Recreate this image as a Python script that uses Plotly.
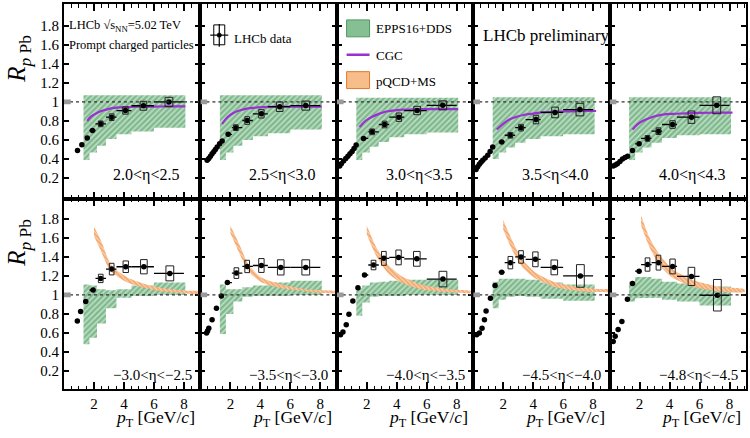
import plotly.graph_objects as go

# ---------------- data ----------------
ETA_TOP = ["2.0&lt;η&lt;2.5", "2.5&lt;η&lt;3.0", "3.0&lt;η&lt;3.5", "3.5&lt;η&lt;4.0", "4.0&lt;η&lt;4.3"]
ETA_BOT = ["−3.0&lt;η&lt;−2.5", "−3.5&lt;η&lt;−3.0", "−4.0&lt;η&lt;−3.5", "−4.5&lt;η&lt;−4.0", "−4.8&lt;η&lt;−4.5"]

X_TICKS = [2, 4, 6, 8]
Y_TICKS = [0.2, 0.4, 0.6, 0.8, 1.0, 1.2, 1.4, 1.6, 1.8]
Y_TICKTEXT = ["0.2", "0.4", "0.6", "0.8", "1", "1.2", "1.4", "1.6", "1.8"]

# LHCb data, forward (top row)
PT_T1 = [0.9, 1.19, 1.55, 1.9, 2.45, 3.18, 4.1, 5.3, 7.0]
R_T1 = [0.49, 0.55, 0.62, 0.70, 0.77, 0.84, 0.91, 0.96, 1.0]
SYS_T1 = [0.03, 0.035, 0.038, 0.047, 0.049]

PT_T2 = [0.45, 0.56, 0.67, 0.78, 0.89, 1.0, 1.12, 1.28, 1.45, 1.85, 2.36, 3.12, 4.07, 5.29, 7.03]
R_T2 = [0.386, 0.405, 0.43, 0.455, 0.476, 0.50, 0.526, 0.56, 0.59, 0.66, 0.73, 0.805, 0.875, 0.95, 0.962]
SYS_T2 = [0.03, 0.04, 0.044, 0.05, 0.048]

PT_T3 = [0.19, 0.3, 0.45, 0.6, 0.74, 0.88, 1.02, 1.15, 1.29, 1.78, 2.36, 3.19, 4.14, 5.36, 7.07]
R_T3 = [0.327, 0.35, 0.38, 0.405, 0.43, 0.455, 0.48, 0.51, 0.547, 0.617, 0.686, 0.763, 0.84, 0.91, 0.965]
SYS_T3 = [0.03, 0.035, 0.044, 0.044, 0.047]

PT_T4 = [0.19, 0.3, 0.41, 0.52, 0.64, 0.8, 0.97, 1.13, 1.3, 1.9, 2.48, 3.19, 4.19, 5.46, 7.12]
R_T4 = [0.29, 0.318, 0.345, 0.365, 0.386, 0.41, 0.44, 0.48, 0.526, 0.58, 0.65, 0.73, 0.815, 0.89, 0.92]
SYS_T4 = [0.03, 0.035, 0.045, 0.056, 0.066]

PT_T5 = [0.24, 0.38, 0.52, 0.69, 0.86, 1.03, 1.2, 1.53, 1.97, 2.53, 3.26, 4.2, 5.46, 7.15]
R_T5 = [0.327, 0.337, 0.35, 0.375, 0.40, 0.415, 0.43, 0.49, 0.56, 0.617, 0.693, 0.763, 0.84, 0.965]
SYS_T5 = [0.03, 0.035, 0.04, 0.065, 0.089]

# LHCb data, backward (bottom row)
PT_B1 = [0.89, 1.11, 1.45, 1.94, 2.45, 3.18, 4.12, 5.33, 7.06]
R_B1 = [0.727, 0.825, 0.93, 1.052, 1.174, 1.272, 1.297, 1.297, 1.227]
SYS_B1 = [0.044, 0.061, 0.061, 0.075, 0.079]

PT_B2 = [0.41, 0.48, 0.56, 0.78, 1.07, 1.4, 1.8, 2.4, 3.12, 4.07, 5.36, 7.03]
R_B2 = [0.60, 0.62, 0.65, 0.74, 0.86, 0.99, 1.13, 1.23, 1.30, 1.31, 1.29, 1.29]
SYS_B2 = [0.056, 0.065, 0.073, 0.08, 0.08]

PT_B3 = [0.25, 0.41, 0.63, 0.81, 1.07, 1.41, 1.85, 2.45, 3.14, 4.12, 5.34, 7.08]
R_B3 = [0.58, 0.61, 0.686, 0.797, 0.937, 1.077, 1.21, 1.315, 1.385, 1.395, 1.38, 1.167]
SYS_B3 = [0.05, 0.073, 0.078, 0.078, 0.082]

PT_B4 = [0.23, 0.41, 0.59, 0.75, 0.86, 1.15, 1.46, 1.9, 2.48, 3.19, 4.15, 5.41, 7.15]
R_B4 = [0.58, 0.60, 0.65, 0.74, 0.83, 0.965, 1.10, 1.24, 1.34, 1.40, 1.375, 1.29, 1.20]
SYS_B4 = [0.065, 0.066, 0.078, 0.078, 0.119]

PT_B5 = [0.24, 0.37, 0.57, 0.82, 1.19, 1.53, 1.97, 2.53, 3.26, 4.2, 5.46, 7.19]
R_B5 = [0.51, 0.565, 0.635, 0.72, 0.956, 1.12, 1.25, 1.32, 1.34, 1.30, 1.195, 0.997]
SYS_B5 = [0.07, 0.078, 0.078, 0.096, 0.166]

DATA_BIN_EDGES = [1.7, 2.1, 2.8, 3.5, 4.5, 6.0, 8.0]
LOW_PT_HALF_BIN = 0.08
STAT_ERR = 0.015

# EPPS16+DDS bands
EPPS_EDGES = [1.3, 1.7, 2.2, 2.8, 3.5, 4.5, 6.0, 8.1]
EPPS_LO_T = [
    [0.39, 0.47, 0.54, 0.61, 0.66, 0.69, 0.73],
    [0.39, 0.47, 0.54, 0.60, 0.64, 0.67, 0.71],
    [0.39, 0.47, 0.53, 0.58, 0.63, 0.66, 0.68],
    [0.40, 0.47, 0.52, 0.57, 0.61, 0.64, 0.66],
    [0.39, 0.47, 0.52, 0.57, 0.62, 0.65, 0.66],
]
EPPS_HI_T = [
    [1.07] * 7,
    [1.07] * 7,
    [1.045] * 7,
    [1.05] * 7,
    [1.05] * 7,
]
EPPS_LO_B = [
    [0.48, 0.55, 0.70, 0.86, 0.97, 0.99, 1.0],
    [0.59, 0.80, 0.93, 0.98, 0.99, 0.99, 1.0],
    [0.78, 0.92, 0.98, 0.99, 0.99, 1.0, 1.0],
    [0.86, 0.95, 0.98, 0.99, 0.98, 0.96, 0.94],
    [0.93, 0.965, 0.97, 0.97, 0.95, 0.93, 0.89],
]
EPPS_HI_B = [
    [1.11, 1.10, 1.06, 1.05, 1.06, 1.10, 1.13],
    [1.11, 1.06, 1.06, 1.08, 1.10, 1.13, 1.15],
    [1.07, 1.10, 1.13, 1.14, 1.15, 1.16, 1.16],
    [1.14, 1.17, 1.17, 1.17, 1.16, 1.13, 1.11],
    [1.14, 1.19, 1.19, 1.17, 1.14, 1.12, 1.09],
]

# CGC curves (top row)
CGC_PT = [
    [1.55, 1.8, 2.2, 2.6, 3.0, 3.5, 4.0, 5.0, 6.0, 7.0, 8.1],
    [1.45, 1.8, 2.2, 2.6, 3.0, 3.5, 4.2, 5.0, 6.0, 7.0, 8.1],
    [1.52, 1.9, 2.3, 2.8, 3.3, 4.0, 4.7, 5.7, 7.0, 8.1],
    [1.57, 2.0, 2.41, 2.9, 3.41, 4.0, 4.6, 5.5, 6.5, 7.5, 8.2],
    [1.53, 1.9, 2.42, 2.9, 3.53, 4.2, 5.1, 6.0, 7.0, 8.2],
]
CGC_R = [
    [0.80, 0.845, 0.885, 0.91, 0.928, 0.94, 0.946, 0.95, 0.952, 0.953, 0.953],
    [0.77, 0.84, 0.885, 0.91, 0.928, 0.938, 0.945, 0.948, 0.95, 0.95, 0.95],
    [0.735, 0.80, 0.84, 0.875, 0.90, 0.915, 0.92, 0.925, 0.925, 0.925],
    [0.71, 0.77, 0.815, 0.845, 0.866, 0.878, 0.89, 0.897, 0.902, 0.905, 0.905],
    [0.71, 0.77, 0.815, 0.845, 0.866, 0.875, 0.88, 0.885, 0.887, 0.888],
]

# pQCD+MS bands (bottom row)
MS_PT = [
    [2.0, 2.5, 3.05, 3.6, 4.4, 5.5, 6.6, 8.2, 9.0],
    [2.0, 2.6, 3.2, 4.1, 5.4, 7.0, 8.1, 9.0],
    [2.0, 2.6, 3.4, 4.3, 5.6, 7.4, 9.0],
    [2.0, 2.64, 3.3, 4.2, 5.5, 7.1, 8.6, 9.0],
    [2.1, 2.64, 3.3, 4.2, 5.5, 7.2, 9.0],
]
MS_LO = [
    [1.62, 1.45, 1.26, 1.19, 1.12, 1.07, 1.035, 1.015, 1.01],
    [1.65, 1.44, 1.25, 1.13, 1.07, 1.04, 1.02, 1.02],
    [1.64, 1.42, 1.23, 1.13, 1.06, 1.03, 1.02],
    [1.69, 1.46, 1.29, 1.17, 1.08, 1.04, 1.03, 1.03],
    [1.73, 1.51, 1.32, 1.18, 1.09, 1.04, 1.03],
]
MS_HI = [
    [1.72, 1.56, 1.34, 1.25, 1.17, 1.11, 1.07, 1.045, 1.04],
    [1.73, 1.53, 1.32, 1.18, 1.11, 1.06, 1.05, 1.04],
    [1.73, 1.51, 1.32, 1.20, 1.11, 1.06, 1.04],
    [1.79, 1.56, 1.37, 1.23, 1.13, 1.08, 1.06, 1.06],
    [1.84, 1.61, 1.43, 1.27, 1.16, 1.09, 1.06],
]

TOP_PT = [PT_T1, PT_T2, PT_T3, PT_T4, PT_T5]
TOP_R = [R_T1, R_T2, R_T3, R_T4, R_T5]
TOP_SYS = [SYS_T1, SYS_T2, SYS_T3, SYS_T4, SYS_T5]
BOT_PT = [PT_B1, PT_B2, PT_B3, PT_B4, PT_B5]
BOT_R = [R_B1, R_B2, R_B3, R_B4, R_B5]
BOT_SYS = [SYS_B1, SYS_B2, SYS_B3, SYS_B4, SYS_B5]

# ---------------- layout geometry ----------------
W, H = 750, 438
ML, MR, MT, MB = 64, 3, 2, 49
PW = W - ML - MR
PH = H - MT - MB
ROW_SPLIT = 198          # pixel row of the boundary between the two rows
NCOL = 5
COLW = PW / NCOL
X_RANGE = [0, 9.1]
Y_RANGE_TOP = [-0.02, 2.03]
Y_RANGE_BOT = [0.01, 2.01]

FONT = "Liberation Serif"
GREEN_FG = "#3f9156"
GREEN_BG = "#bfdfc5"
ORANGE_FG = "#ee7c2c"
ORANGE_BG = "#fbd3b0"
PURPLE = "#9b30d0"


def xp(px):
    return (px - ML) / PW


def yp(py):
    return (H - MB - py) / PH


def bin_of(pt):
    for i in range(len(DATA_BIN_EDGES) - 1):
        if DATA_BIN_EDGES[i] <= pt < DATA_BIN_EDGES[i + 1]:
            return DATA_BIN_EDGES[i], DATA_BIN_EDGES[i + 1]
    return None


fig = go.Figure()
shapes = []
annotations = []

split_frac = yp(ROW_SPLIT)

for row in range(2):
    for c in range(NCOL):
        idx = row * NCOL + c + 1
        xa = "x" if idx == 1 else f"x{idx}"
        ya = "y" if idx == 1 else f"y{idx}"
        xkey = "xaxis" if idx == 1 else f"xaxis{idx}"
        ykey = "yaxis" if idx == 1 else f"yaxis{idx}"

        # ---- EPPS16+DDS band ----
        lo = (EPPS_LO_T if row == 0 else EPPS_LO_B)[c]
        hi = (EPPS_HI_T if row == 0 else EPPS_HI_B)[c]
        bx, by = [], []
        for i in range(len(lo)):
            bx += [EPPS_EDGES[i], EPPS_EDGES[i + 1]]
            by += [hi[i], hi[i]]
        for i in reversed(range(len(lo))):
            bx += [EPPS_EDGES[i + 1], EPPS_EDGES[i]]
            by += [lo[i], lo[i]]
        fig.add_trace(go.Scatter(
            x=bx, y=by, xaxis=xa, yaxis=ya, mode="lines", fill="toself",
            line=dict(width=0), fillcolor=GREEN_BG,
            fillpattern=dict(shape="/", fgcolor=GREEN_FG, bgcolor=GREEN_BG,
                             size=4, solidity=0.6),
            hoverinfo="skip", showlegend=False))

        if row == 0:
            fig.add_trace(go.Scatter(
                x=CGC_PT[c], y=CGC_R[c], xaxis=xa, yaxis=ya, mode="lines",
                line=dict(color=PURPLE, width=2.2, shape="spline"),
                hoverinfo="skip", showlegend=False))
        else:
            mx = MS_PT[c] + MS_PT[c][::-1]
            my = MS_HI[c] + MS_LO[c][::-1]
            fig.add_trace(go.Scatter(
                x=mx, y=my, xaxis=xa, yaxis=ya, mode="lines", fill="toself",
                line=dict(width=0, shape="spline", smoothing=0.6),
                fillcolor=ORANGE_BG,
                fillpattern=dict(shape="\\", fgcolor=ORANGE_FG, bgcolor=ORANGE_BG,
                                 size=3, solidity=0.6),
                hoverinfo="skip", showlegend=False))

        # ---- data points ----
        pts = (TOP_PT if row == 0 else BOT_PT)[c]
        rs = (TOP_R if row == 0 else BOT_R)[c]
        sys = (TOP_SYS if row == 0 else BOT_SYS)[c]
        ex_p, ex_m = [], []
        for pt in pts:
            b = bin_of(pt)
            if b is None:
                ex_p.append(LOW_PT_HALF_BIN)
                ex_m.append(LOW_PT_HALF_BIN)
            else:
                ex_m.append(pt - b[0])
                ex_p.append(b[1] - pt)
        fig.add_trace(go.Scatter(
            x=pts, y=rs, xaxis=xa, yaxis=ya, mode="markers",
            marker=dict(color="black", size=5.5),
            error_x=dict(type="data", array=ex_p, arrayminus=ex_m, symmetric=False,
                         color="black", thickness=1.3, width=0),
            error_y=dict(type="constant", value=STAT_ERR, color="black",
                         thickness=1.3, width=0),
            hoverinfo="skip", showlegend=False))

        # systematic boxes for the last points
        nbox = len(sys)
        for k in range(nbox):
            pi = len(pts) - nbox + k
            pt, rv = pts[pi], rs[pi]
            b = bin_of(pt)
            hw = 0.1 + 0.08 * (b[1] - b[0])
            shapes.append(dict(type="rect", xref=xa, yref=ya,
                               x0=pt - hw, x1=pt + hw, y0=rv - sys[k], y1=rv + sys[k],
                               line=dict(color="#222", width=1), fillcolor="rgba(0,0,0,0)"))

        # reference line at 1 and normalisation box
        shapes.append(dict(type="line", xref=xa, yref=ya, x0=X_RANGE[0], x1=X_RANGE[1],
                           y0=1, y1=1, line=dict(color="#333", width=1.2, dash="dot")))
        shapes.append(dict(type="rect", xref=xa, yref=ya, x0=0, x1=0.45,
                           y0=0.975, y1=1.025, line=dict(width=0), fillcolor="#9a9a9a"))

        # ---- axes ----
        dom_x = [c / NCOL, (c + 1) / NCOL]
        dom_y = [split_frac, 1] if row == 0 else [0, split_frac]
        fig.layout[xkey] = dict(
            domain=dom_x, anchor=ya, range=X_RANGE, showgrid=False, zeroline=False,
            showline=True, linecolor="black", linewidth=2, mirror="allticks",
            ticks="inside", ticklen=7, tickwidth=1.5, tickcolor="black",
            tickvals=X_TICKS, ticktext=[str(v) for v in X_TICKS],
            showticklabels=(row == 1),
            tickfont=dict(family=FONT, size=15, color="black"),
            minor=dict(dtick=0.5, tick0=0, ticks="inside", ticklen=3.5,
                       tickwidth=1.2, tickcolor="black", showgrid=False),
            fixedrange=True)
        fig.layout[ykey] = dict(
            domain=dom_y, anchor=xa,
            range=Y_RANGE_TOP if row == 0 else Y_RANGE_BOT,
            showgrid=False, zeroline=False,
            showline=True, linecolor="black", linewidth=2, mirror="allticks",
            ticks="inside", ticklen=5, tickwidth=1.5, tickcolor="black",
            tickvals=Y_TICKS, ticktext=Y_TICKTEXT,
            showticklabels=(c == 0),
            tickfont=dict(family=FONT, size=15, color="black"),
            fixedrange=True)

        # eta label
        left_px = ML + COLW * c
        annotations.append(dict(
            xref="paper", yref="paper", x=xp(left_px + 47), y=yp(174 if row == 0 else 375),
            xanchor="left", yanchor="middle", showarrow=False,
            text=(ETA_TOP if row == 0 else ETA_BOT)[c],
            font=dict(family=FONT, size=16 if row == 0 else 15, color="black")))
        if row == 1:
            annotations.append(dict(
                xref="paper", yref="paper", x=xp(left_px + COLW - 3), y=yp(419),
                xanchor="right", yanchor="middle", showarrow=False,
                text="<i>p</i><sub>T</sub> [GeV/<i>c</i>]",
                font=dict(family=FONT, size=17.5, color="black")))

# y-axis titles
for cy in (57, 242):
    annotations.append(dict(
        xref="paper", yref="paper", x=xp(19), y=yp(cy), xanchor="center", yanchor="middle",
        showarrow=False, textangle=-90, text="<i>R</i><sub><i>p</i> Pb</sub>",
        font=dict(family=FONT, size=25, color="black")))

# panel texts
annotations += [
    dict(xref="paper", yref="paper", x=xp(67), y=yp(24), xanchor="left", yanchor="middle",
         showarrow=False, text="LHCb √s<sub>NN</sub>=5.02 TeV",
         font=dict(family=FONT, size=12.5, color="black")),
    dict(xref="paper", yref="paper", x=xp(67), y=yp(43), xanchor="left", yanchor="middle",
         showarrow=False, text="Prompt charged particles",
         font=dict(family=FONT, size=12.5, color="black")),
    dict(xref="paper", yref="paper", x=xp(232), y=yp(37), xanchor="left", yanchor="middle",
         showarrow=False, text="LHCb data",
         font=dict(family=FONT, size=13, color="black")),
    dict(xref="paper", yref="paper", x=xp(374), y=yp(27), xanchor="left", yanchor="middle",
         showarrow=False, text="EPPS16+DDS",
         font=dict(family=FONT, size=13, color="black")),
    dict(xref="paper", yref="paper", x=xp(374), y=yp(54), xanchor="left", yanchor="middle",
         showarrow=False, text="CGC",
         font=dict(family=FONT, size=13, color="black")),
    dict(xref="paper", yref="paper", x=xp(374), y=yp(80), xanchor="left", yanchor="middle",
         showarrow=False, text="pQCD+MS",
         font=dict(family=FONT, size=13, color="black")),
    dict(xref="paper", yref="paper", x=xp(482), y=yp(34), xanchor="left", yanchor="middle",
         showarrow=False, text="LHCb preliminary",
         font=dict(family=FONT, size=17, color="black")),
]

# legend icons
shapes += [
    dict(type="rect", xref="paper", yref="paper", x0=xp(214), x1=xp(225), y0=yp(43), y1=yp(23),
         line=dict(color="black", width=1)),
    dict(type="line", xref="paper", yref="paper", x0=xp(210.5), x1=xp(228.5), y0=yp(33.3), y1=yp(33.3),
         line=dict(color="black", width=1.2)),
    dict(type="line", xref="paper", yref="paper", x0=xp(219.5), x1=xp(219.5), y0=yp(45), y1=yp(22),
         line=dict(color="black", width=1.2)),
    dict(type="circle", xref="paper", yref="paper", x0=xp(217.3), x1=xp(221.7), y0=yp(35.5), y1=yp(31.1),
         line=dict(color="black", width=0.5), fillcolor="black"),
    dict(type="rect", xref="paper", yref="paper", x0=xp(347), x1=xp(370), y0=yp(35), y1=yp(18),
         line=dict(color="#4f9a62", width=1), fillcolor="#86bf93"),
    dict(type="line", xref="paper", yref="paper", x0=xp(347), x1=xp(370), y0=yp(53), y1=yp(53),
         line=dict(color=PURPLE, width=2.5)),
    dict(type="rect", xref="paper", yref="paper", x0=xp(347), x1=xp(370), y0=yp(87), y1=yp(70),
         line=dict(color="#e07a30", width=1), fillcolor="#f7bd8a"),
]

fig.update_layout(
    width=W, height=H, margin=dict(l=ML, r=MR, t=MT, b=MB),
    paper_bgcolor="white", plot_bgcolor="white",
    showlegend=False, shapes=shapes, annotations=annotations,
    font=dict(family=FONT, color="black"))

fig.write_html("out.html")
